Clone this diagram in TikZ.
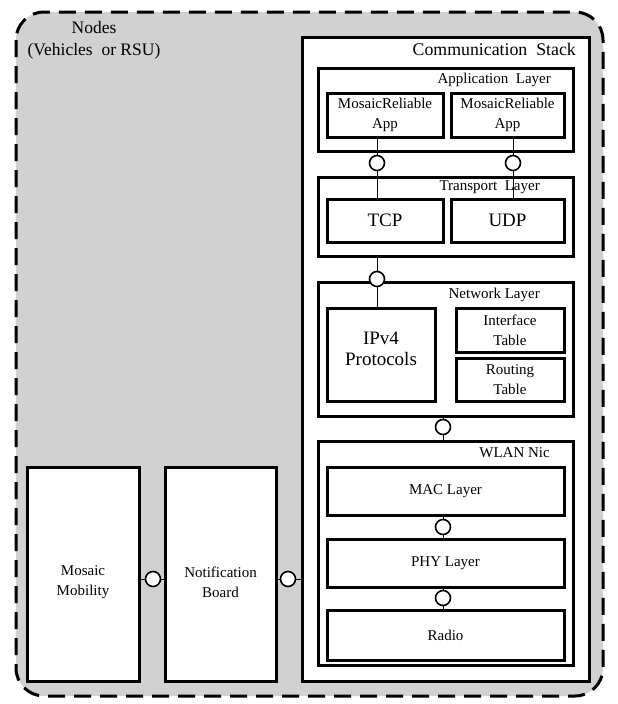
\documentclass[tikz,border=0pt]{standalone}
\usepackage{fontspec}
\setmainfont{Liberation Serif}
\begin{document}
\begin{tikzpicture}[x=1pt,y=-1pt,
  box/.style={draw, line width=3pt, fill=white, rectangle, inner sep=0pt, align=center, font=\fontsize{15}{20}\selectfont},
  big/.style={font=\fontsize{19}{21}\selectfont},
  port/.style={circle, draw, line width=1.6pt, fill=white, minimum size=15pt, inner sep=0pt},
  link/.style={line width=1pt},
  lbl/.style={font=\fontsize{15}{20}\selectfont, inner sep=0pt},
  hdr/.style={font=\fontsize{17.5}{22}\selectfont, inner sep=0pt, align=center}]
\useasboundingbox (0,0) rectangle (618,704);
% outer dashed container
\draw[line width=3pt, dash pattern=on 17pt off 9pt, fill=black!18, rounded corners=28pt]
  (16,12) rectangle (603,696);
\node[hdr, anchor=base] (nodes) at (94,55) {Nodes\\(Vehicles~ or RSU)};
% communication stack
\node[box, minimum width=287pt, minimum height=644pt] (comm) at (445.5,359) {};
\node[hdr, anchor=base east, font=\fontsize{17.8}{20}\selectfont] (commlbl) at (576,55) {Communication~ Stack};
% application layer
\node[box, minimum width=255pt, minimum height=83pt] (app) at (445.5,109.5) {};
\node[lbl, anchor=base east] (applbl) at (551,83) {Application~ Layer};
\node[box, minimum width=116pt, minimum height=44pt] (app1) at (385,115) {MosaicReliable\\App};
\node[box, minimum width=113pt, minimum height=44pt] (app2) at (507.5,115) {MosaicReliable\\App};
% transport layer
\node[box, minimum width=255pt, minimum height=79pt] (trans) at (445.5,216.5) {};
\node[lbl, anchor=base east] (translbl) at (540,190) {Transport~ Layer};
\node[box, big, minimum width=116pt, minimum height=43pt] (tcp) at (385,220.5) {TCP};
\node[box, big, minimum width=113pt, minimum height=43pt] (udp) at (507.5,220.5) {UDP};
% network layer
\node[box, minimum width=255pt, minimum height=134pt] (net) at (445.5,349) {};
\node[lbl, anchor=base east] (netlbl) at (540,298) {Network Layer};
\node[box, minimum width=108pt, minimum height=93pt] (ipv4) at (381,354.5) {};
\node[lbl, big, align=center] (ipv4lbl) at (381,349) {IPv4\\Protocols};
\node[box, minimum width=108pt, minimum height=44pt] (iftab) at (510,330) {Interface\\Table};
\node[box, minimum width=108pt, minimum height=43pt] (rttab) at (510,379.5) {Routing\\Table};
% WLAN
\node[box, minimum width=255pt, minimum height=224pt] (wlan) at (445.5,553) {};
\node[lbl, anchor=base east] (wlanlbl) at (550,457) {WLAN Nic};
\node[box, minimum width=237pt, minimum height=48pt] (mac) at (445.5,491) {MAC Layer};
\node[box, minimum width=237pt, minimum height=48pt] (phy) at (445.5,563) {PHY Layer};
\node[box, minimum width=237pt, minimum height=50pt] (radio) at (445.5,635) {Radio};
% left modules
\node[box, minimum width=112pt, minimum height=214pt] (mob) at (83,574) {};
\node[lbl, align=center] (moblbl) at (83,582) {Mosaic\\Mobility};
\node[box, minimum width=111pt, minimum height=214pt] (notif) at (220.5,574) {};
\node[lbl, align=center] (notiflbl) at (220.5,582) {Notification\\Board};
% ports
\node[port] (c1) at (377,163) {};
\node[port] (c2) at (513,163) {};
\node[port] (c3) at (377,279) {};
\node[port] (c4) at (443,427) {};
\node[port] (c5) at (443,527) {};
\node[port] (c6) at (443,598) {};
\node[port] (c7) at (153,579) {};
\node[port] (c8) at (288,579) {};
% links
\draw[link] (c1.north) -- (c1 |- app1.south);
\draw[link] (c1.south) -- (c1 |- tcp.north);
\draw[link] (c2.north) -- (c2 |- app2.south);
\draw[link] (c2.south) -- (c2 |- udp.north);
\draw[link] (c3.north) -- (c3 |- trans.south);
\draw[link] (c3.south) -- (c3 |- ipv4.north);
\draw[link] (c4.north) -- (c4 |- net.south);
\draw[link] (c4.south) -- (c4 |- wlan.north);
\draw[link] (c5.north) -- (c5 |- mac.south);
\draw[link] (c5.south) -- (c5 |- phy.north);
\draw[link] (c6.north) -- (c6 |- phy.south);
\draw[link] (c6.south) -- (c6 |- radio.north);
\draw[link] (c7.west) -- (c7 -| mob.east);
\draw[link] (c7.east) -- (c7 -| notif.west);
\draw[link] (c8.west) -- (c8 -| notif.east);
\draw[link] (c8.east) -- (c8 -| comm.west);
\end{tikzpicture}
\end{document}
